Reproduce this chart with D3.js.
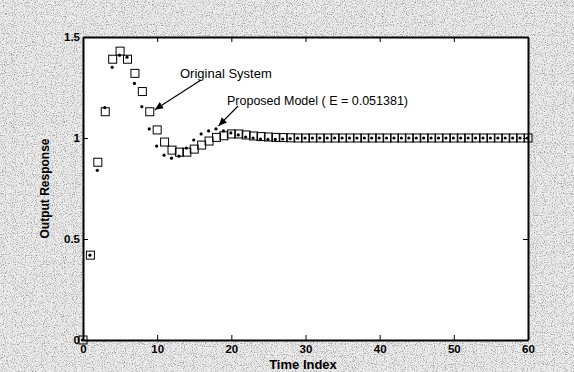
<!DOCTYPE html>
<html>
<head>
<meta charset="utf-8">
<script src="https://cdn.jsdelivr.net/npm/d3@7"></script>
<style>
  html, body { margin: 0; padding: 0; background: #e0e0e0; }
  svg { display: block; }
</style>
</head>
<body>
<div id="chart"></div>
<script>
// Time indices 0..60
const timeIndex = d3.range(0, 61);

// Original system (dots)
const originalSystem = [
  0.00, 0.42, 0.84, 1.15, 1.35, 1.41, 1.40, 1.27, 1.155, 1.045,
  0.96, 0.915, 0.90, 0.91, 0.95, 0.99, 1.02, 1.035, 1.045, 1.035,
  1.025, 1.015, 1.005, 1.00, 0.995, 0.993, 0.993, 0.995, 0.997, 0.999,
  1.00, 1.00, 1.00, 1.00, 1.00, 1.00, 1.00, 1.00, 1.00, 1.00,
  1.00, 1.00, 1.00, 1.00, 1.00, 1.00, 1.00, 1.00, 1.00, 1.00,
  1.00, 1.00, 1.00, 1.00, 1.00, 1.00, 1.00, 1.00, 1.00, 1.00, 1.00
];

// Proposed model (squares)
const proposedModel = [
  0.00, 0.42, 0.88, 1.13, 1.39, 1.43, 1.39, 1.32, 1.23, 1.13,
  1.04, 0.98, 0.94, 0.93, 0.93, 0.945, 0.965, 0.985, 1.003, 1.011,
  1.02, 1.02, 1.015, 1.01, 1.007, 1.005, 1.003, 1.002, 1.001, 1.00,
  1.00, 1.00, 1.00, 1.00, 1.00, 1.00, 1.00, 1.00, 1.00, 1.00,
  1.00, 1.00, 1.00, 1.00, 1.00, 1.00, 1.00, 1.00, 1.00, 1.00,
  1.00, 1.00, 1.00, 1.00, 1.00, 1.00, 1.00, 1.00, 1.00, 1.00, 1.00
];

const xTicks = [0, 10, 20, 30, 40, 50, 60];
const yTicks = [0, 0.5, 1, 1.5];
const yTickLabels = ['0', '0.5', '1', '1.5'];

const width = 574, height = 372;
const margin = { top: 37, right: 46, bottom: 32, left: 83 };

const svg = d3.select('#chart').append('svg')
  .attr('width', width).attr('height', height)
  .style('font-family', 'Liberation Sans, Arial, sans-serif');

// speckled scan background
const defs = svg.append('defs');
const f = defs.append('filter').attr('id', 'speckle').attr('x', 0).attr('y', 0).attr('width', '100%').attr('height', '100%');
f.append('feTurbulence').attr('type', 'fractalNoise').attr('baseFrequency', 0.9).attr('numOctaves', 2).attr('seed', 3).attr('result', 'n');
f.append('feColorMatrix').attr('in', 'n').attr('type', 'matrix')
  .attr('values', '0 0 0 0 0  0 0 0 0 0  0 0 0 0 0  0 0 0 -2.6 1.35');
svg.append('rect').attr('width', width).attr('height', height).attr('fill', '#ececec');
svg.append('rect').attr('width', width).attr('height', height).attr('fill', '#000').attr('filter', 'url(#speckle)').attr('opacity', 0.4);

const x = d3.scaleLinear().domain([0, 60]).range([margin.left, width - margin.right]);
const y = d3.scaleLinear().domain([0, 1.5]).range([height - margin.bottom, margin.top]);

// plot area
svg.append('rect')
  .attr('x', x(0)).attr('y', y(1.5))
  .attr('width', x(60) - x(0)).attr('height', y(0) - y(1.5))
  .attr('fill', '#fff');

// axes with inward ticks (box style)
const tickLen = 5;
const axBottom = svg.append('g').attr('transform', `translate(0,${y(0)})`)
  .call(d3.axisBottom(x).tickValues(xTicks).tickSizeInner(-tickLen).tickSizeOuter(0).tickPadding(4));
const axTop = svg.append('g').attr('transform', `translate(0,${y(1.5)})`)
  .call(d3.axisTop(x).tickValues(xTicks).tickSizeInner(-tickLen).tickSizeOuter(0).tickFormat(''));
const axLeft = svg.append('g').attr('transform', `translate(${x(0)},0)`)
  .call(d3.axisLeft(y).tickValues(yTicks).tickSizeInner(-tickLen).tickSizeOuter(0).tickPadding(3)
    .tickFormat((d, i) => yTickLabels[i]));
const axRight = svg.append('g').attr('transform', `translate(${x(60)},0)`)
  .call(d3.axisRight(y).tickValues(yTicks).tickSizeInner(-tickLen).tickSizeOuter(0).tickFormat(''));

[axBottom, axTop, axLeft, axRight].forEach(g => {
  g.select('.domain').attr('stroke', '#000').attr('stroke-width', 2);
  g.selectAll('.tick line').attr('stroke', '#000').attr('stroke-width', 1);
  g.selectAll('text').attr('font-size', 11.5).attr('font-weight', 'bold').attr('fill', '#000')
    .attr('font-family', 'Liberation Sans, Arial, sans-serif');
});
axBottom.selectAll('text').attr('dy', '0.75em');

// axis titles
svg.append('text')
  .attr('x', 303).attr('y', 369)
  .attr('text-anchor', 'middle').attr('font-size', 13).attr('font-weight', 'bold')
  .text('Time Index');
svg.append('text')
  .attr('transform', `translate(49,${(y(0) + y(1.5)) / 2}) rotate(-90)`)
  .attr('text-anchor', 'middle').attr('font-size', 12).attr('font-weight', 'bold')
  .text('Output Response');

// markers
const plot = svg.append('g');
plot.selectAll('circle.orig')
  .data(timeIndex)
  .join('circle')
  .attr('class', 'orig')
  .attr('cx', d => x(d) - 0.5)
  .attr('cy', d => y(originalSystem[d]))
  .attr('r', 1.6)
  .attr('fill', '#000');

const s = 8;
plot.selectAll('rect.model')
  .data(timeIndex)
  .join('rect')
  .attr('class', 'model')
  .attr('x', d => x(d) - s / 2)
  .attr('y', d => y(proposedModel[d]) - s / 2)
  .attr('width', s).attr('height', s)
  .attr('fill', 'none')
  .attr('stroke', '#000')
  .attr('stroke-width', 1);

// annotations
defs.append('marker')
  .attr('id', 'arr').attr('viewBox', '0 -4 8 8').attr('refX', 8).attr('refY', 0)
  .attr('markerWidth', 7).attr('markerHeight', 7).attr('orient', 'auto')
  .append('path').attr('d', 'M0,-3.5L8,0L0,3.5Z').attr('fill', '#000');

svg.append('line')
  .attr('x1', 201).attr('y1', 80).attr('x2', x(9) + 5).attr('y2', y(1.14))
  .attr('stroke', '#000').attr('stroke-width', 1.2).attr('marker-end', 'url(#arr)');
svg.append('text').attr('x', 180).attr('y', 78).attr('font-size', 13).text('Original System');

svg.append('line')
  .attr('x1', 238).attr('y1', 106).attr('x2', x(18) + 2).attr('y2', y(1.06))
  .attr('stroke', '#000').attr('stroke-width', 1.2).attr('marker-end', 'url(#arr)');
svg.append('text').attr('x', 227).attr('y', 105).attr('font-size', 12.5).text('Proposed Model ( E = 0.051381)');
</script>
</body>
</html>
